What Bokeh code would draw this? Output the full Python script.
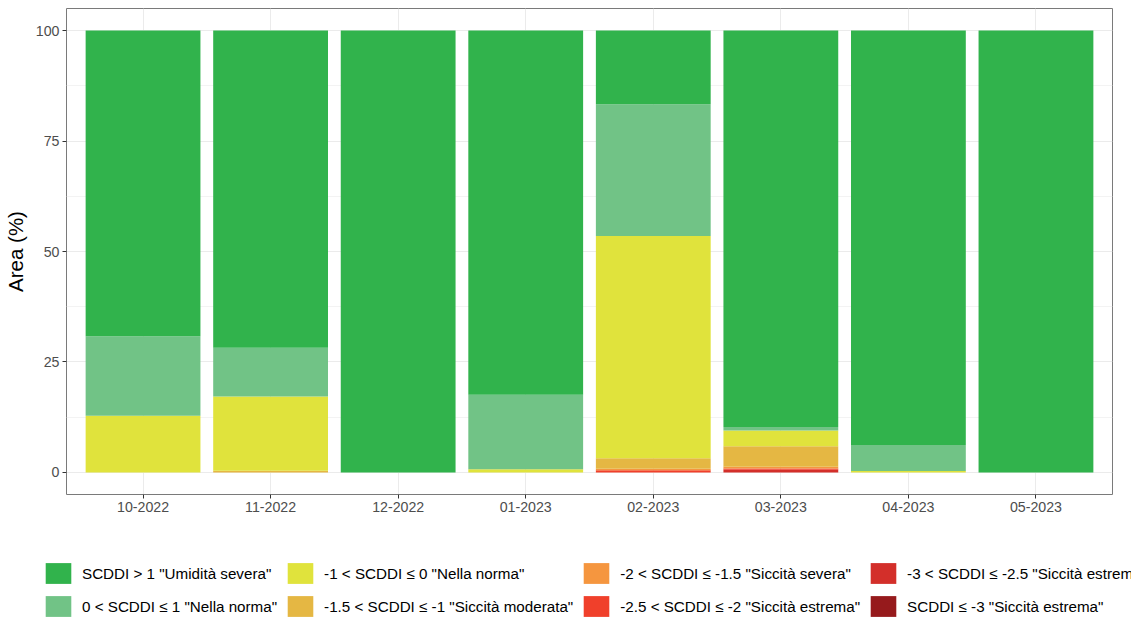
from bokeh.plotting import figure
from bokeh.layouts import column
from bokeh.models import (ColumnDataSource, Range1d, FixedTicker, Legend, LegendItem)
from bokeh.embed import file_html
from bokeh.resources import INLINE

# ---------------- data ----------------
months = ["10-2022", "11-2022", "12-2022", "01-2023", "02-2023", "03-2023", "04-2023", "05-2023"]

le_m3    = [0.0, 0.0, 0.0, 0.0, 0.0, 0.0, 0.0, 0.0]     # SCDDI <= -3
m3_m25   = [0.0, 0.0, 0.0, 0.0, 0.0, 0.6, 0.0, 0.0]     # -3 < SCDDI <= -2.5
m25_m2   = [0.0, 0.0, 0.0, 0.0, 0.5, 0.3, 0.0, 0.0]     # -2.5 < SCDDI <= -2
m2_m15   = [0.0, 0.0, 0.0, 0.0, 0.3, 0.4, 0.0, 0.0]     # -2 < SCDDI <= -1.5
m15_m1   = [0.0, 0.4, 0.0, 0.0, 2.4, 4.6, 0.0, 0.0]     # -1.5 < SCDDI <= -1
m1_0     = [12.8, 16.8, 0.0, 0.7, 50.3, 3.6, 0.3, 0.0]  # -1 < SCDDI <= 0
p0_1     = [18.0, 11.0, 0.0, 16.9, 29.8, 0.8, 5.9, 0.0] # 0 < SCDDI <= 1
gt1      = [69.2, 71.8, 100.0, 82.4, 16.7, 89.7, 93.8, 100.0]  # SCDDI > 1

series_keys = ["le_m3", "m3_m25", "m25_m2", "m2_m15", "m15_m1", "m1_0", "p0_1", "gt1"]
series_vals = [le_m3, m3_m25, m25_m2, m2_m15, m15_m1, m1_0, p0_1, gt1]
series_labels = [
    'SCDDI \u2264 -3 "Siccit\u00e0 estrema"',
    '-3 < SCDDI \u2264 -2.5 "Siccit\u00e0 estrema"',
    '-2.5 < SCDDI \u2264 -2 "Siccit\u00e0 estrema"',
    '-2 < SCDDI \u2264 -1.5 "Siccit\u00e0 severa"',
    '-1.5 < SCDDI \u2264 -1 "Siccit\u00e0 moderata"',
    '-1 < SCDDI \u2264 0 "Nella norma"',
    '0 < SCDDI \u2264 1 "Nella norma"',
    'SCDDI > 1 "Umidit\u00e0 severa"',
]
series_colors = ["#961a1c", "#d32f2a", "#f0402b", "#f5963f", "#e5b743", "#e0e33c", "#71c386", "#31b34c"]

y_ticks = [0, 25, 50, 75, 100]

# ---------------- chart ----------------
xs = list(range(1, len(months) + 1))
data = {"x": xs}
for k, v in zip(series_keys, series_vals):
    data[k] = v
source = ColumnDataSource(data)

FONT = "Liberation Sans"

p = figure(width=1131, height=524, output_backend="svg", toolbar_location=None,
           x_range=Range1d(0.4, 8.6), y_range=Range1d(-5, 105),
           min_border_left=66, min_border_right=19, min_border_top=8, min_border_bottom=30)

p.vbar_stack(series_keys, x="x", width=0.9, color=series_colors,
             line_color=None, source=source)

p.background_fill_color = "white"
p.border_fill_color = "white"
p.outline_line_color = "#7a7a7a"
p.outline_line_width = 1

p.xgrid.ticker = FixedTicker(ticks=xs)
p.xgrid.grid_line_color = "#ebebeb"
p.xgrid.grid_line_width = 1
p.ygrid.ticker = FixedTicker(ticks=y_ticks, minor_ticks=[12.5, 37.5, 62.5, 87.5])
p.ygrid.grid_line_color = "#ebebeb"
p.ygrid.grid_line_width = 1
p.ygrid.minor_grid_line_color = "#f3f3f3"
p.ygrid.minor_grid_line_width = 1

p.xaxis.ticker = FixedTicker(ticks=xs)
p.xaxis.major_label_overrides = {x: m for x, m in zip(xs, months)}
p.xaxis.axis_line_color = None
p.xaxis.major_tick_line_color = "#333333"
p.xaxis.major_tick_out = 4
p.xaxis.major_tick_in = 0
p.xaxis.minor_tick_line_color = None
p.xaxis.major_label_text_font = FONT
p.xaxis.major_label_text_font_size = "14.2px"
p.xaxis.major_label_text_color = "#4d4d4d"
p.xaxis.major_label_standoff = 3

p.yaxis.ticker = FixedTicker(ticks=y_ticks)
p.yaxis.axis_line_color = None
p.yaxis.major_tick_line_color = "#333333"
p.yaxis.major_tick_out = 4
p.yaxis.major_tick_in = 0
p.yaxis.minor_tick_line_color = None
p.yaxis.major_label_text_font = FONT
p.yaxis.major_label_text_font_size = "14.2px"
p.yaxis.major_label_text_color = "#4d4d4d"
p.yaxis.major_label_standoff = 3
p.yaxis.axis_label = "Area (%)"
p.yaxis.axis_label_text_font = FONT
p.yaxis.axis_label_text_font_size = "20.5px"
p.yaxis.axis_label_text_font_style = "normal"
p.yaxis.axis_label_text_color = "black"
p.yaxis.axis_label_standoff = 6

# ---------------- legend strip ----------------
lf = figure(width=1131, height=95, output_backend="svg", toolbar_location=None,
            x_range=p.x_range, y_range=p.y_range,
            min_border_left=0, min_border_right=0, min_border_top=0, min_border_bottom=0)
lf.axis.visible = False
lf.grid.visible = False
lf.outline_line_color = None
lf.background_fill_color = "white"
lf.border_fill_color = "white"
keys = lf.vbar_stack(series_keys, x="x", width=0.9, color=series_colors,
                     line_color=None, source=source, visible=False)

aligned = True
if hasattr(lf, "frame_align"):
    lf.frame_align = False
    p.frame_align = False
    aligned = False
leg_x = (42 - 66) if aligned else 42

top_first = list(range(len(series_keys)))[::-1]          # gt1, p0_1, m1_0, ...
row1 = top_first[0::2]
row2 = top_first[1::2]
items = [LegendItem(label=series_labels[i], renderers=[keys[i]]) for i in row1 + row2]
leg = Legend(items=items, location=(leg_x, 0), orientation="horizontal", ncols=4,
             glyph_width=32, glyph_height=26, label_standoff=8, spacing=7,
             padding=0, margin=0, border_line_color=None,
             background_fill_alpha=0, click_policy="none",
             label_text_font=FONT, label_text_font_size="15.2px",
             label_text_color="black", label_height=26)
lf.add_layout(leg, "center")

layout = column(p, lf, spacing=0)
open("out.html", "w").write(file_html(layout, INLINE))
